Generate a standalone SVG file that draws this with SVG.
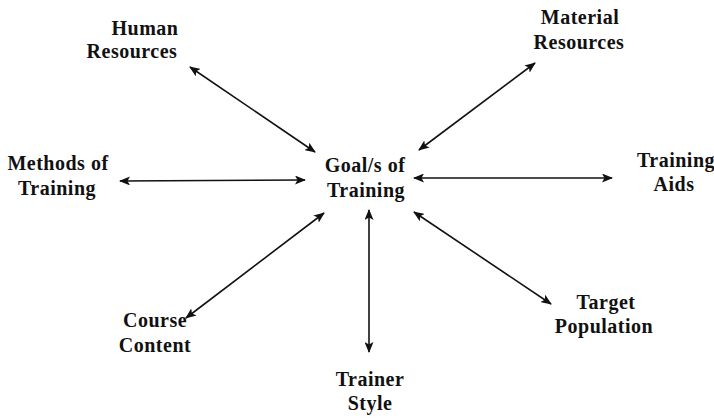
<svg xmlns="http://www.w3.org/2000/svg" width="714" height="418" viewBox="0 0 714 418">
<style>
.t{font-family:"Liberation Serif","Times New Roman",serif;font-weight:bold;font-size:20px;letter-spacing:0.5px;fill:#111;text-anchor:middle}
.c line{stroke:#111;stroke-width:1.6;marker-start:url(#a);marker-end:url(#a)}
</style>
<defs>
<marker id="a" viewBox="0 0 11 9" refX="10" refY="4.5" markerWidth="11" markerHeight="9" markerUnits="userSpaceOnUse" orient="auto-start-reverse">
<path d="M0,0 L11,4.5 L0,9 L2.5,4.5 Z" fill="#111"/>
</marker>
</defs>
<rect width="714" height="418" fill="#fff"/>
<g class="c" id="connectors">
<line x1="315" y1="152" x2="190" y2="67"/>
<line x1="419" y1="150" x2="535" y2="63"/>
<line x1="305" y1="180" x2="120" y2="181"/>
<line x1="414" y1="178" x2="612" y2="178"/>
<line x1="324" y1="213" x2="186" y2="318"/>
<line x1="369" y1="210" x2="369" y2="352"/>
<line x1="414" y1="212" x2="551" y2="304"/>
</g>
<g id="goal"><text class="t" x="365" y="172">Goal/s of</text><text class="t" x="366" y="197">Training</text></g>
<g id="human"><text class="t" x="145" y="35">Human</text><text class="t" x="132" y="58">Resources</text></g>
<g id="material"><text class="t" x="580" y="24">Material</text><text class="t" x="579" y="49">Resources</text></g>
<g id="methods"><text class="t" x="58" y="170">Methods of</text><text class="t" x="57" y="195">Training</text></g>
<g id="aids"><text class="t" x="676" y="167">Training</text><text class="t" x="674" y="191">Aids</text></g>
<g id="course"><text class="t" x="155" y="327">Course</text><text class="t" x="155" y="352">Content</text></g>
<g id="trainer"><text class="t" x="370" y="386">Trainer</text><text class="t" x="370" y="410">Style</text></g>
<g id="target"><text class="t" x="606" y="309">Target</text><text class="t" x="604" y="333">Population</text></g>
</svg>
